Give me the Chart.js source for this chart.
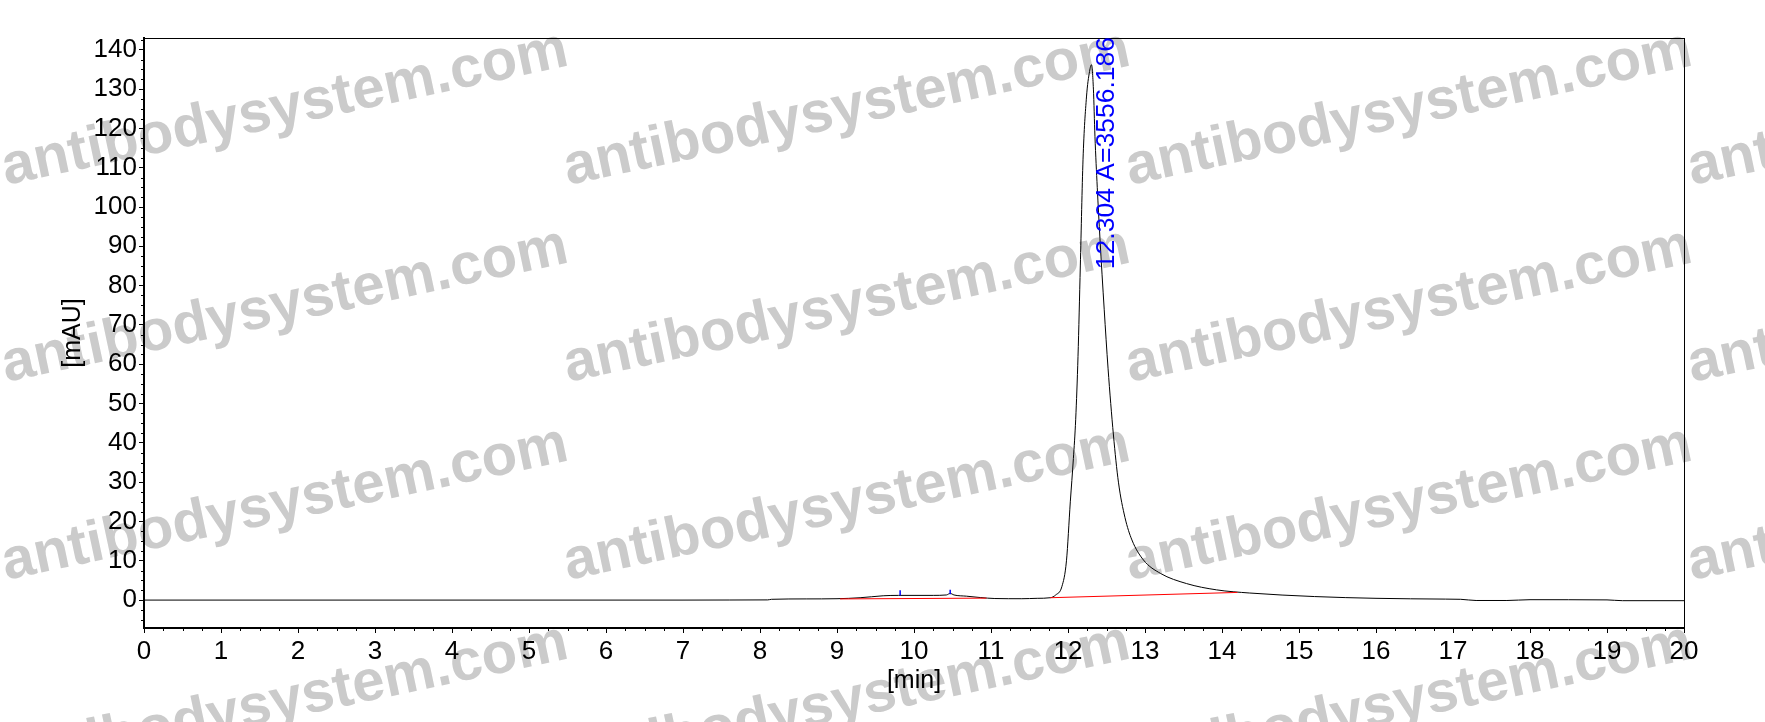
<!DOCTYPE html>
<html>
<head>
  <title>Chromatogram</title>
  <script src="https://cdn.jsdelivr.net/npm/chart.js"></script>
  <style>
    body { margin: 0; background: #fff; }
    canvas { display: block; }
  </style>
</head>
<body>
  <canvas id="chrom" width="1765" height="722"></canvas>

  <script>
    // signal trace
    const timeMin = [0, 1, 2, 3, 4, 5, 6, 7, 7.6, 8.1, 8.15, 8.6, 9.0, 9.3, 9.45, 9.6, 9.8, 10.0, 10.25, 10.42, 10.47, 10.52,
      10.68, 10.86, 11.05, 11.4, 11.6, 11.77, 11.84, 11.92, 11.98, 12.03, 12.07, 12.1, 12.13, 12.16, 12.195, 12.24, 12.28,
      12.305, 12.33, 12.35, 12.38, 12.415, 12.47, 12.52, 12.59, 12.655, 12.74, 12.83, 12.98, 13.2, 13.54, 13.93, 14.36,
      15.2, 16.0, 16.9, 17.1, 17.3, 17.7, 18.0, 19.0, 19.2, 20];
    const signalMAU = [0, 0, 0, 0, 0, 0, 0, 0, 0.02, 0.05, 0.2, 0.3, 0.35, 0.6, 0.85, 1.1, 1.2, 1.2, 1.2, 1.3, 1.7, 1.3,
      1.0, 0.65, 0.4, 0.35, 0.45, 0.6, 1.3, 3.4, 10, 25, 36, 46, 62, 85, 112, 128, 134.5,
      136.2, 130, 118, 105, 92, 74, 59, 42, 30, 21, 15.3, 10.2, 6.8, 4.2, 2.6, 1.8,
      0.9, 0.45, 0.25, 0.2, -0.1, -0.1, 0.1, 0.05, -0.15, -0.15];

    // integration baselines (red), the null value splits the two segments
    const baseTime = [9.04, 10.94, 11.3, 11.77, 14.2];
    const baseMAU = [0.3, 0.5, null, 0.6, 1.95];

    // peak start/end markers (blue)
    const markTime = [9.82, 9.82, 10.1, 10.47, 10.47];
    const markMAU = [1.2, 2.5, null, 1.5, 2.6];

    const xTickValues = [0, 1, 2, 3, 4, 5, 6, 7, 8, 9, 10, 11, 12, 13, 14, 15, 16, 17, 18, 19, 20];
    const yTickValues = [0, 10, 20, 30, 40, 50, 60, 70, 80, 90, 100, 110, 120, 130, 140];

    const peakTime = 12.304;
    const peakLabel = '12.304 A=3556.186';
    const watermark = 'antibodysystem.com';

    const toXY = (xs, ys) => xs.map((x, i) => ({ x: x, y: ys[i] }));
    const FONT = '"Liberation Sans", Arial, sans-serif';

    const extras = {
      id: 'extras',
      beforeDraw(chart) {
        const c = chart.ctx;
        c.save();
        c.fillStyle = '#fff';
        c.fillRect(0, 0, chart.width, chart.height);
        c.font = 'bold 58px ' + FONT;
        c.fillStyle = '#cbcbcb';
        [185, 382, 580, 778].forEach(y0 => {
          [6, 568, 1130, 1692].forEach(x0 => {
            c.save();
            c.translate(x0, y0);
            c.rotate(-12 * Math.PI / 180);
            c.fillText(watermark, 0, 0);
            c.restore();
          });
        });
        c.restore();
      },
      afterDraw(chart) {
        const c = chart.ctx;
        const a = chart.chartArea;
        const xs = chart.scales.x, ys = chart.scales.y;
        c.save();
        c.strokeStyle = '#000';
        c.lineWidth = 1;
        c.strokeRect(a.left + 0.5, a.top + 0.5, a.right - a.left, a.bottom - a.top);
        // minor ticks
        c.beginPath();
        for (let v = 0.25; v < 20; v += 0.25) {
          if (Math.abs(v - Math.round(v)) < 1e-6) continue;
          const px = Math.round(xs.getPixelForValue(v)) + 0.5;
          c.moveTo(px, a.bottom);
          c.lineTo(px, a.bottom + 3);
        }
        for (let v = -5; v <= 142.5; v += 2.5) {
          if (Math.abs(v / 10 - Math.round(v / 10)) < 1e-6) continue;
          const py = Math.round(ys.getPixelForValue(v)) + 0.5;
          c.moveTo(a.left, py);
          c.lineTo(a.left - 3, py);
        }
        c.stroke();
        // peak annotation
        c.translate(xs.getPixelForValue(peakTime) + 15, ys.getPixelForValue(84.2));
        c.rotate(-Math.PI / 2);
        c.font = '26.5px ' + FONT;
        c.fillStyle = '#0000ff';
        c.textAlign = 'left';
        c.textBaseline = 'middle';
        c.fillText(peakLabel, 0, 0);
        c.restore();
      }
    };

    new Chart(document.getElementById('chrom'), {
      type: 'line',
      data: {
        datasets: [
          { label: 'baseline', data: toXY(baseTime, baseMAU), borderColor: '#ff0000', borderWidth: 1, pointRadius: 0, spanGaps: false },
          { label: 'marks', data: toXY(markTime, markMAU), borderColor: '#0000ff', borderWidth: 1.5, pointRadius: 0, spanGaps: false },
          { label: 'signal', data: toXY(timeMin, signalMAU), borderColor: '#000', borderWidth: 1, pointRadius: 0,
            cubicInterpolationMode: 'monotone' }
        ]
      },
      options: {
        responsive: false,
        animation: false,
        layout: { padding: { left: 0, top: 38, right: 81, bottom: 0 } },
        plugins: { legend: { display: false }, tooltip: { enabled: false } },
        scales: {
          x: {
            type: 'linear', min: 0, max: 20,
            afterBuildTicks: s => { s.ticks = xTickValues.map(v => ({ value: v })); },
            afterFit: s => { s.height = 94; },
            grid: { drawOnChartArea: false, tickLength: 5, color: '#000' },
            border: { color: '#000', width: 2 },
            ticks: { color: '#000', font: { family: FONT, size: 26 }, padding: 3, maxRotation: 0 },
            title: { display: true, text: '[min]', color: '#000', font: { family: FONT, size: 25 }, padding: { top: 0, bottom: 26 } }
          },
          y: {
            min: -7.1, max: 143,
            afterBuildTicks: s => { s.ticks = yTickValues.map(v => ({ value: v })); },
            afterFit: s => { s.width = 144; },
            grid: { drawOnChartArea: false, tickLength: 5, color: '#000' },
            border: { color: '#000', width: 2 },
            ticks: { color: '#000', font: { family: FONT, size: 26 }, padding: 2 },
            title: { display: true, text: '[mAU]', color: '#000', font: { family: FONT, size: 25 }, padding: { top: 58, bottom: 0 } }
          }
        }
      },
      plugins: [extras]
    });
  </script>
</body>
</html>
